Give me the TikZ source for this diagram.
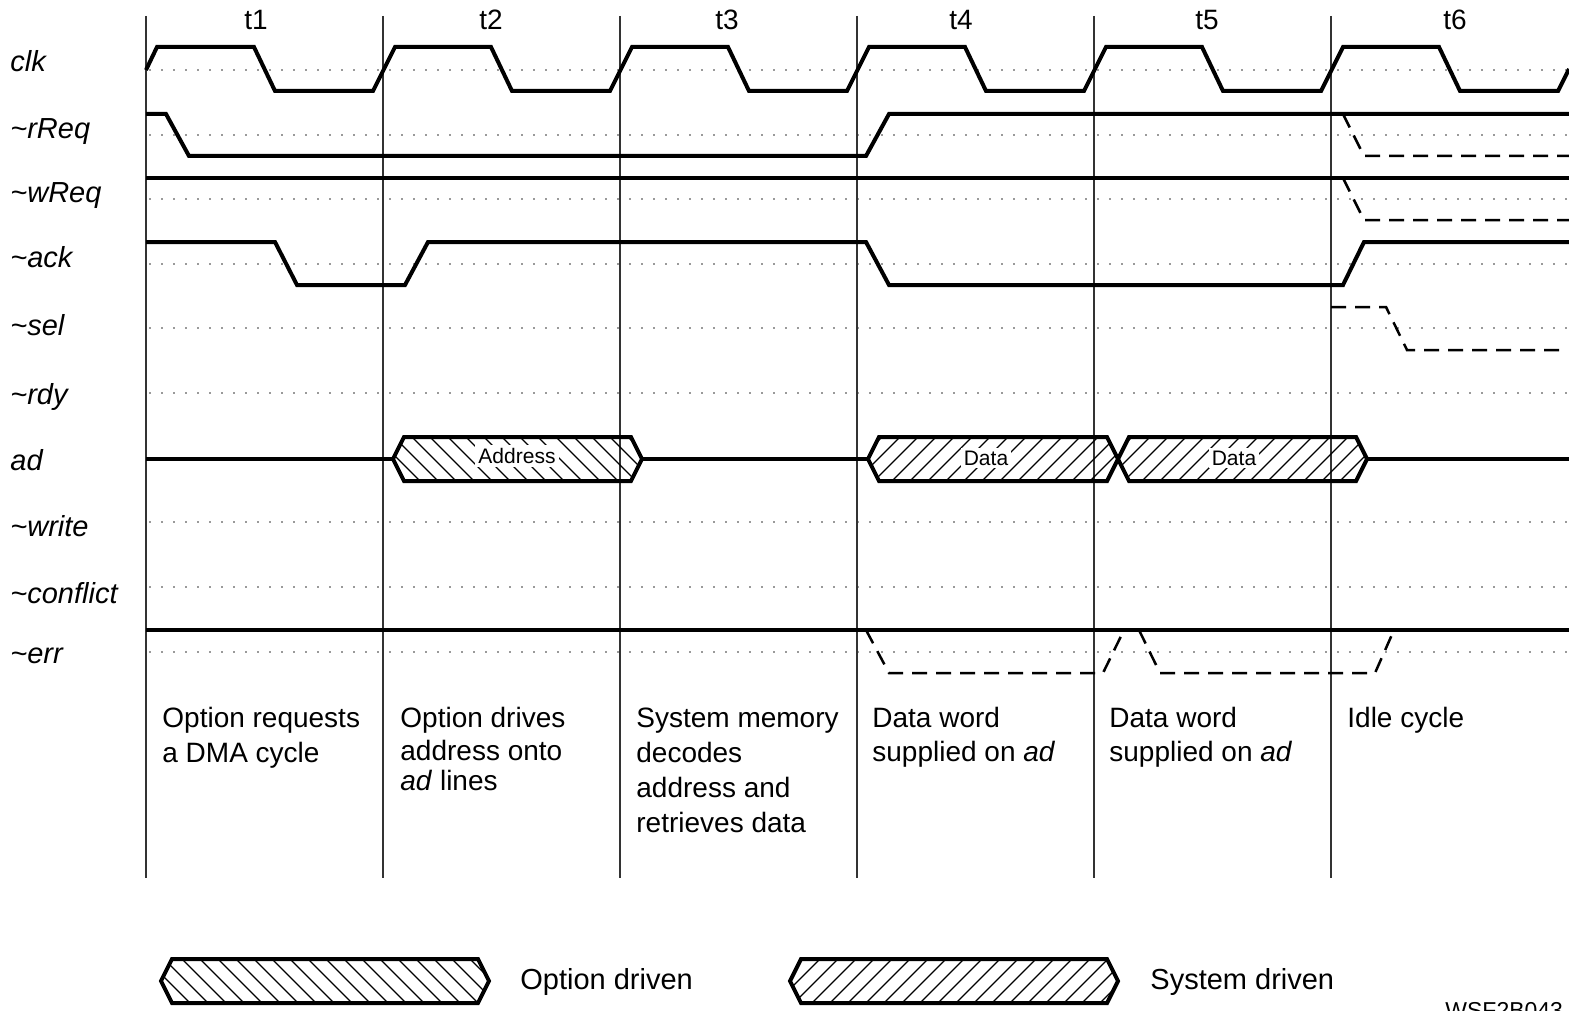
\documentclass[tikz,border=0pt]{standalone}
\usepackage{fontspec}
\setmainfont{Liberation Sans}
\begin{document}
\begin{tikzpicture}[x=0.5pt,y=-0.5pt,
  sig/.style={line width=2pt, line join=miter},
  alt/.style={line width=1.25pt, dash pattern=on 7.5pt off 4.5pt},
  dotln/.style={line width=0.8pt, black!80, line cap=round, dash pattern=on 0pt off 6pt},
  gridln/.style={line width=0.7pt, black!80},
  hatch/.style={line width=0.55pt},
  siglab/.style={anchor=base west, inner sep=0pt, font=\fontsize{14.5}{17}\selectfont\itshape},
  ann/.style={anchor=base west, inner sep=0pt, font=\fontsize{14}{17}\selectfont},
  buslab/.style={fill=white, inner sep=1.5pt, font=\fontsize{10.5}{12}\selectfont},
  tlab/.style={anchor=base, inner sep=0pt, font=\fontsize{14}{17}\selectfont},
  leglab/.style={anchor=west, inner sep=0pt, font=\fontsize{14.5}{17}\selectfont}]
\useasboundingbox (0,0) rectangle (1569,1011);

% period grid lines
\foreach \g in {146,383,620,857,1094,1331}
  \draw[gridln] (\g,16) -- (\g,878);

% period labels
\node[tlab] (t1) at (256,30) {t1};
\node[tlab] (t2) at (491,30) {t2};
\node[tlab] (t3) at (727,30) {t3};
\node[tlab] (t4) at (961,30) {t4};
\node[tlab] (t5) at (1207,30) {t5};
\node[tlab] (t6) at (1455,30) {t6};

% dotted mid-lines
\foreach \y in {70,135,199,264,328,393,522,587,652}
  \draw[dotln] (150,\y) -- (1569,\y);

% signal labels
\node[siglab] (lclk) at (10,72) {clk};
\node[siglab] (lrreq) at (10,139) {\textasciitilde rReq};
\node[siglab] (lwreq) at (10,202) {\textasciitilde wReq};
\node[siglab] (lack) at (10,267) {\textasciitilde ack};
\node[siglab] (lsel) at (10,335) {\textasciitilde sel};
\node[siglab] (lrdy) at (10,404) {\textasciitilde rdy};
\node[siglab] (lad) at (10,470) {ad};
\node[siglab] (lwrite) at (10,536) {\textasciitilde write};
\node[siglab] (lconf) at (10,603) {\textasciitilde conflict};
\node[siglab] (lerr) at (10,663) {\textasciitilde err};

% clk
\draw[sig] (146,70)--(157,47)--(254,47)--(275,91)--(373,91)--(395,47)--(491,47)--(512,91)--(610,91)--(632,47)--(728,47)--(749,91)--(847,91)--(869,47)--(965,47)--(986,91)--(1084,91)--(1106,47)--(1202,47)--(1223,91)--(1321,91)--(1343,47)--(1439,47)--(1460,91)--(1558,91)--(1569,69);

% ~rReq
\draw[sig] (146,114)--(166,114)--(189,156)--(866,156)--(889,114)--(1569,114);
\draw[alt] (1343,114)--(1364,156)--(1569,156);

% ~wReq
\draw[sig] (146,178)--(1569,178);
\draw[alt] (1343,178)--(1364,220)--(1569,220);

% ~ack
\draw[sig] (146,242)--(275,242)--(297,285)--(405,285)--(428,242)--(866,242)--(889,285)--(1343,285)--(1364,242)--(1569,242);

% ~sel
\draw[alt] (1331,307)--(1386,307)--(1407,350)--(1562,350);

% ad bus
\draw[sig] (146,459)--(393,459);
\draw[sig] (642,459)--(868,459);
\draw[sig] (1367,459)--(1569,459);

\begin{scope}
  \clip (393,459)--(404,437)--(631,437)--(642,459)--(631,481)--(404,481)--cycle;
  \foreach \x in {340,358,...,650} \draw[hatch] (\x,437)--(\x+44,481);
\end{scope}
\draw[sig] (393,459)--(404,437)--(631,437)--(642,459)--(631,481)--(404,481)--cycle;
\node[buslab] (addr) at (517,456) {Address};

\begin{scope}
  \clip (868,459)--(879,437)--(1107,437)--(1118,459)--(1107,481)--(879,481)--cycle;
  \foreach \x in {820,838,...,1130} \draw[hatch] (\x,481)--(\x+44,437);
\end{scope}
\draw[sig] (868,459)--(879,437)--(1107,437)--(1118,459)--(1107,481)--(879,481)--cycle;
\node[buslab] (data1) at (986,458) {Data};

\begin{scope}
  \clip (1118,459)--(1129,437)--(1356,437)--(1367,459)--(1356,481)--(1129,481)--cycle;
  \foreach \x in {1070,1088,...,1380} \draw[hatch] (\x,481)--(\x+44,437);
\end{scope}
\draw[sig] (1118,459)--(1129,437)--(1356,437)--(1367,459)--(1356,481)--(1129,481)--cycle;
\node[buslab] (data2) at (1234,458) {Data};

% ~err
\draw[sig] (146,630)--(1569,630);
\draw[alt] (866,630)--(889,673)--(1103,673)--(1124,630);
\draw[alt] (1139,630)--(1160,673)--(1375,673)--(1394,630);

% annotations
\node[ann] (a1a) at (162,727) {Option requests};
\node[ann] (a1b) at (162,762) {a DMA cycle};
\node[ann] (a2a) at (400,727) {Option drives};
\node[ann] (a2b) at (400,760) {address onto};
\node[ann] (a2c) at (400,790) {\textit{ad} lines};
\node[ann] (a3a) at (636,727) {System memory};
\node[ann] (a3b) at (636,762) {decodes};
\node[ann] (a3c) at (636,797) {address and};
\node[ann] (a3d) at (636,832) {retrieves data};
\node[ann] (a4a) at (872,727) {Data word};
\node[ann] (a4b) at (872,761) {supplied on \textit{ad}};
\node[ann] (a5a) at (1109,727) {Data word};
\node[ann] (a5b) at (1109,761) {supplied on \textit{ad}};
\node[ann] (a6a) at (1347,727) {Idle cycle};

% legend
\begin{scope}
  \clip (161,981)--(172,959)--(478,959)--(489,981)--(478,1003)--(172,1003)--cycle;
  \foreach \x in {110,128,...,500} \draw[hatch] (\x,959)--(\x+44,1003);
\end{scope}
\draw[sig] (161,981)--(172,959)--(478,959)--(489,981)--(478,1003)--(172,1003)--cycle;
\node[leglab] (lego) at (520,982) {Option driven};

\begin{scope}
  \clip (790,981)--(801,959)--(1107,959)--(1118,981)--(1107,1003)--(801,1003)--cycle;
  \foreach \x in {740,758,...,1130} \draw[hatch] (\x,1003)--(\x+44,959);
\end{scope}
\draw[sig] (790,981)--(801,959)--(1107,959)--(1118,981)--(1107,1003)--(801,1003)--cycle;
\node[leglab] (legs) at (1150,982) {System driven};

\node[anchor=base west, inner sep=0pt, font=\fontsize{11.5}{13}\selectfont] (fig) at (1445,1018) {WSF2B043};
\end{tikzpicture}
\end{document}
